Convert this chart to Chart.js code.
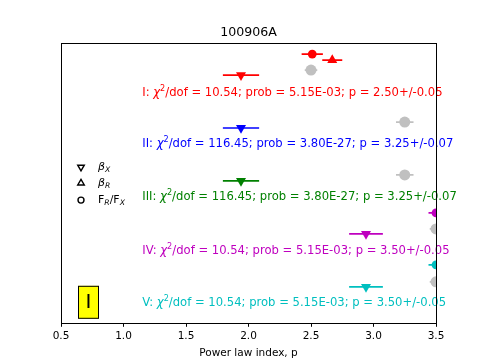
<!DOCTYPE html>
<html>
<head>
<meta charset="utf-8">
<script src="https://cdn.jsdelivr.net/npm/chart.js@4.4.0/dist/chart.umd.min.js"></script>
<style>
  html, body { margin: 0; padding: 0; background: #fff; }
</style>
</head>
<body>
<canvas id="chart" width="485" height="364"></canvas>
<script>
// one entry per row: I .. V
const groups = ['I', 'II', 'III', 'IV', 'V'];
const chi2 = [10.54, 116.45, 116.45, 10.54, 10.54];
const prob = ['5.15E-03', '3.80E-27', '3.80E-27', '5.15E-03', '5.15E-03'];

// power law index p (grey points)
const pIndex = [2.50, 3.25, 3.25, 3.50, 3.50];
const pErr = [0.05, 0.07, 0.07, 0.05, 0.05];
const pRow = [25.3, 20.1, 14.8, 9.4, 4.1];

// beta_X (down triangles)
const betaX = [1.94, 1.94, 1.94, 2.94, 2.94];
const betaXErr = [0.145, 0.145, 0.145, 0.135, 0.135];
const betaXRow = [24.8, 19.5, 14.2, 8.9, 3.6];

// beta_R (up triangles), only row I on the plot
const betaR = [2.67, null, null, null, null];
const betaRErr = [0.08, null, null, null, null];
const betaRRow = [26.3, null, null, null, null];

// F_R/F_X (circles)
const ratio = [2.51, null, null, 3.50, 3.50];
const ratioErr = [0.085, null, null, 0.06, 0.06];
const ratioRow = [26.9, null, null, 11.0, 5.8];

const textRow = [23.0, 17.9, 12.6, 7.2, 2.0];
const textX = 1.15;

const xTicks = [0.5, 1.0, 1.5, 2.0, 2.5, 3.0, 3.5];

const colors = ['#ff0000', '#0000ff', '#008000', '#bf00bf', '#00bfbf'];
const grey = '#c0c0c0';
const FONT = '"DejaVu Sans"';
const FS = 10.5;
const NOTE_FS = 11.6;

function pts(xs, ys) {
    const out = [];
    xs.forEach((v, i) => { if (v !== null) out.push({ x: v, y: ys[i], c: colors[i] }); });
    return out;
}
function keep(arr, ref) {
    return arr.filter((v, i) => ref[i] !== null);
}

// text with italic / sub / sup pieces
function drawRuns(ctx, x, y, runs, size, color) {
    ctx.fillStyle = color;
    ctx.textBaseline = 'middle';
    ctx.textAlign = 'left';
    runs.forEach(r => {
        const s = (r.sub || r.sup) ? size * 0.7 : size;
        ctx.font = (r.it ? 'italic ' : '') + s + 'px ' + FONT;
        const dy = r.sub ? size * 0.3 : (r.sup ? -size * 0.35 : 0);
        ctx.fillText(r.t, x, y + dy);
        x += ctx.measureText(r.t).width;
    });
}

// horizontal error bars, drawn under the markers
const errorBars = {
    id: 'errorBars',
    beforeDatasetsDraw(chart) {
        const ctx = chart.ctx, xs = chart.scales.x, ca = chart.chartArea;
        ctx.save();
        ctx.beginPath();
        ctx.rect(ca.left, ca.top, ca.right - ca.left, ca.bottom - ca.top);
        ctx.clip();
        ctx.lineWidth = 1.7;
        chart.data.datasets.forEach((ds, di) => {
            const meta = chart.getDatasetMeta(di);
            ds.data.forEach((d, i) => {
                const e = ds.xErr[i];
                const py = meta.data[i].y;
                ctx.strokeStyle = ds.barColor || d.c;
                ctx.beginPath();
                ctx.moveTo(xs.getPixelForValue(d.x - e), py);
                ctx.lineTo(xs.getPixelForValue(d.x + e), py);
                ctx.stroke();
            });
        });
        ctx.restore();
    }
};

const notes = {
    id: 'notes',
    afterDatasetsDraw(chart) {
        const ctx = chart.ctx, xs = chart.scales.x, ys = chart.scales.y, ca = chart.chartArea;
        ctx.save();
        groups.forEach((g, i) => {
            const runs = [
                { t: g + ': ' }, { t: 'χ', it: true }, { t: '2', sup: true },
                { t: '/dof = ' + chi2[i].toFixed(2) + '; prob = ' + prob[i] +
                     '; p = ' + pIndex[i].toFixed(2) + '+/-' + pErr[i].toFixed(2) }
            ];
            drawRuns(ctx, xs.getPixelForValue(textX), ys.getPixelForValue(textRow[i]), runs, NOTE_FS, colors[i]);
        });

        // legend
        const lx = ca.left + 20, tx = ca.left + 37;
        const items = [
            { style: 'triangle', rot: 180, y: ca.top + 124, runs: [{ t: 'β', it: true }, { t: 'X', it: true, sub: true }] },
            { style: 'triangle', rot: 0, y: ca.top + 140, runs: [{ t: 'β', it: true }, { t: 'R', it: true, sub: true }] },
            { style: 'circle', rot: 0, y: ca.top + 157, runs: [{ t: 'F' }, { t: 'R', it: true, sub: true }, { t: '/F' }, { t: 'X', it: true, sub: true }] }
        ];
        items.forEach(it => {
            ctx.fillStyle = '#fff';
            ctx.strokeStyle = '#000';
            ctx.lineWidth = 1.4;
            Chart.helpers.drawPoint(ctx, { pointStyle: it.style, radius: it.style === 'circle' ? 3 : 3.8, rotation: it.rot, borderWidth: 1.4 }, lx, it.y);
            drawRuns(ctx, tx, it.y, it.runs, 11, '#000');
        });

        // panel tag
        const bx = ca.left + 17, by = ca.bottom - 37;
        ctx.fillStyle = '#ffff00';
        ctx.fillRect(bx, by, 21, 33);
        ctx.strokeStyle = '#000';
        ctx.lineWidth = 1;
        ctx.strokeRect(bx + 0.5, by + 0.5, 20, 32);
        ctx.fillStyle = '#000';
        ctx.font = '20px ' + FONT;
        ctx.textAlign = 'center';
        ctx.textBaseline = 'middle';
        ctx.fillText('I', bx + 10.5, by + 17);
        ctx.restore();
    },
    afterDraw(chart) {
        const ctx = chart.ctx, ca = chart.chartArea;
        ctx.save();
        ctx.strokeStyle = '#000';
        ctx.lineWidth = 1;
        ctx.strokeRect(Math.round(ca.left) + 0.5, Math.round(ca.top) + 0.5,
            Math.round(ca.right - ca.left), Math.round(ca.bottom - ca.top));
        ctx.restore();
    }
};

function markerSet(xs, es, rows, style, rot, radius, fill) {
    const data = pts(xs, rows);
    return {
        data: data,
        xErr: keep(es, xs),
        barColor: fill,
        pointStyle: style,
        rotation: rot,
        pointRadius: radius,
        pointHoverRadius: radius,
        pointBackgroundColor: fill || data.map(d => d.c),
        pointBorderColor: fill || data.map(d => d.c),
        pointBorderWidth: 0,
        showLine: false,
        clip: 0
    };
}

new Chart(document.getElementById('chart').getContext('2d'), {
    type: 'scatter',
    data: {
        datasets: [
            markerSet(pIndex, pErr, pRow, 'circle', 0, 5.5, grey),
            markerSet(betaX, betaXErr, betaXRow, 'triangle', 180, 5.8, null),
            markerSet(betaR, betaRErr, betaRRow, 'triangle', 0, 5.8, null),
            markerSet(ratio, ratioErr, ratioRow, 'circle', 0, 4.4, null)
        ]
    },
    options: {
        responsive: false,
        animation: false,
        devicePixelRatio: 1,
        layout: { padding: { left: 61, right: 49, top: 25, bottom: 0 } },
        plugins: {
            legend: { display: false },
            tooltip: { enabled: false },
            title: {
                display: true,
                text: '100906A',
                color: '#000',
                font: { family: FONT, size: 12.6, weight: 'normal' },
                padding: { top: 0, bottom: 3 }
            }
        },
        scales: {
            x: {
                type: 'linear',
                min: 0.5,
                max: 3.5,
                afterBuildTicks: axis => { axis.ticks = xTicks.map(v => ({ value: v })); },
                grid: { drawOnChartArea: false, drawTicks: true, tickLength: 4, color: '#000' },
                border: { display: false },
                ticks: {
                    color: '#000',
                    font: { family: FONT, size: FS },
                    padding: 3,
                    maxRotation: 0,
                    callback: v => Number(v).toFixed(1)
                },
                title: {
                    display: true,
                    text: 'Power law index, p',
                    color: '#000',
                    font: { family: FONT, size: FS },
                    padding: { top: 2, bottom: 4 }
                }
            },
            y: {
                type: 'linear',
                min: 0,
                max: 28,
                display: false
            }
        }
    },
    plugins: [errorBars, notes]
});
</script>
</body>
</html>
